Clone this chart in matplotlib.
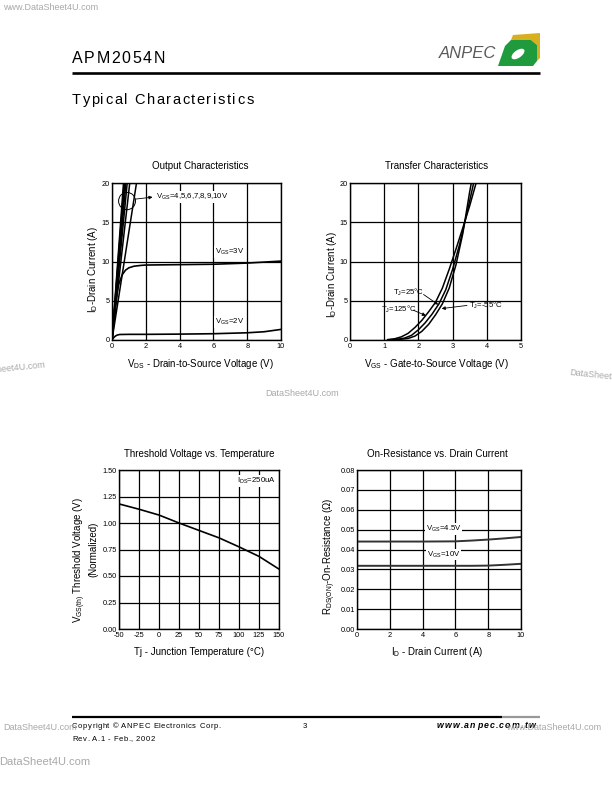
import matplotlib
matplotlib.use('agg')
import matplotlib.pyplot as plt
from matplotlib.lines import Line2D
from matplotlib.patches import Ellipse, Polygon

W, H = 612, 792
FONT = ['Liberation Sans Narrow', 'Liberation Sans', 'DejaVu Sans']
TICKFONT = ['Liberation Sans', 'DejaVu Sans']
plt.rcParams['font.family'] = FONT
plt.rcParams['mathtext.default'] = 'regular'

# --- Output characteristics (ID vs VDS)
vgs_steep = [4, 5, 6, 7, 8, 9, 10]
vds_at_20a = [1.45, 1.05, 0.90, 0.82, 0.76, 0.72, 0.68]
vds_3v = [0, 0.1, 0.2, 0.3, 0.4, 0.6, 0.8, 1.0, 1.3, 1.7, 2.0, 4.0, 6.0, 8.0, 10.0]
id_3v = [0, 2.5, 4.5, 6.0, 7.1, 8.3, 8.9, 9.2, 9.4, 9.5, 9.55, 9.6, 9.65, 9.8, 10.05]
vds_2v = [0, 0.1, 0.2, 0.3, 0.45, 1, 2, 4, 6, 8, 9, 10]
id_2v = [0, 0.3, 0.5, 0.62, 0.7, 0.72, 0.72, 0.75, 0.8, 0.92, 1.05, 1.35]

# --- Transfer characteristics (ID vs VGS)
vgs_125 = [1.1, 1.3, 1.5, 1.7, 1.9, 2.1, 2.3, 2.5, 2.7, 2.9, 3.1, 3.3, 3.5, 3.7]
id_125 = [0.05, 0.15, 0.4, 0.85, 1.6, 2.5, 3.6, 4.8, 6.6, 9.0, 11.6, 14.3, 17.1, 20.2]
vgs_25 = [1.2, 1.4, 1.6, 1.8, 2.0, 2.2, 2.4, 2.6, 2.8, 3.0, 3.2, 3.4, 3.6, 3.62]
id_25 = [0.05, 0.1, 0.25, 0.6, 1.3, 2.2, 3.3, 4.6, 6.4, 9.0, 12.1, 15.8, 19.7, 20.2]
vgs_m55 = [1.3, 1.5, 1.7, 1.9, 2.1, 2.3, 2.5, 2.7, 2.9, 3.1, 3.3, 3.5, 3.56]
id_m55 = [0.05, 0.1, 0.2, 0.5, 1.1, 2.0, 3.2, 4.6, 6.6, 9.6, 13.6, 18.9, 20.3]

# --- Threshold voltage vs temperature
tj = [-50, -25, 0, 25, 50, 75, 100, 125, 150]
vth_norm = [1.18, 1.13, 1.075, 1.0, 0.93, 0.86, 0.775, 0.685, 0.565]

# --- On-resistance vs drain current
id_r = [0, 2, 4, 6, 7, 8, 9, 10]
rds_45 = [0.0440, 0.0440, 0.0440, 0.0441, 0.0445, 0.0450, 0.0456, 0.0463]
rds_10 = [0.0318, 0.0318, 0.0318, 0.0318, 0.0318, 0.0319, 0.0323, 0.0328]

fig = plt.figure(figsize=(W / 100, H / 100), dpi=100)
renderer = fig.canvas.get_renderer()


def fx(x):
    return x / W


def fy(y):
    return 1 - y / H


def ftext(x, y, s, **kw):
    return fig.text(fx(x), fy(y), s, **kw)


def spaced(x, y, s, size, gap, **kw):
    # letter-spaced text, positions measured from the renderer
    ref = fig.text(0, 0, '|', fontsize=size, **kw)
    wref = ref.get_window_extent(renderer).width
    ref.remove()
    for k, ch in enumerate(s):
        if k:
            t = fig.text(0, 0, s[:k] + '|', fontsize=size, **kw)
            off = t.get_window_extent(renderer).width - wref
            t.remove()
        else:
            off = 0
        if ch != ' ':
            ftext(x + off + k * gap, y, ch, fontsize=size, va='baseline', **kw)


def hline(x0, x1, y, lw, color='black'):
    fig.add_artist(Line2D([fx(x0), fx(x1)], [fy(y), fy(y)], lw=lw, color=color,
                          transform=fig.transFigure, solid_capstyle='butt'))


def make_ax(x0, y0, x1, y1, xlim, ylim, xticks, yticks, xfmt, yfmt):
    ax = fig.add_axes([fx(x0), fy(y1), (x1 - x0) / W, (y1 - y0) / H])
    ax.set_xlim(xlim)
    ax.set_ylim(ylim)
    ax.set_xticks(xticks)
    ax.set_yticks(yticks)
    ax.set_xticklabels([xfmt % v for v in xticks], family=TICKFONT)
    ax.set_yticklabels([yfmt % v for v in yticks], family=TICKFONT)
    ax.grid(True, color='black', linewidth=0.9)
    ax.set_axisbelow(True)
    ax.tick_params(length=0, labelsize=5.3)
    ax.tick_params(axis='x', pad=2.5)
    ax.tick_params(axis='y', pad=1.5)
    for s in ax.spines.values():
        s.set_linewidth(1.0)
    return ax


small = dict(fontsize=5.6, family=TICKFONT)
wbox = dict(facecolor='white', edgecolor='none', pad=0.6)
arr = dict(arrowstyle='-|>', color='black', lw=0.6, mutation_scale=5,
           shrinkA=0, shrinkB=0)

# ---------------- Output characteristics
ax1 = make_ax(112, 183, 281, 340, (0, 10), (0, 20), [0, 2, 4, 6, 8, 10],
              [0, 5, 10, 15, 20], '%d', '%d')
for v in vds_at_20a:
    ax1.plot([0, v], [0, 20], color='black', lw=1.1)
ax1.plot(vds_3v, id_3v, color='black', lw=1.2)
ax1.plot(vds_2v, id_2v, color='black', lw=1.2)
ax1.add_patch(Ellipse((0.89, 17.7), 1.0, 2.2, fill=False, lw=0.7, color='black'))
ax1.annotate('', xy=(2.4, 18.2), xytext=(1.39, 17.95), arrowprops=arr)
ax1.text(2.6, 18.2, r'$V_{GS}$=' + ','.join(str(v) for v in vgs_steep) + 'V',
         va='center', bbox=wbox, **small)
ax1.text(6.1, 11.2, r'$V_{GS}$=3V', va='center', bbox=wbox, **small)
ax1.text(6.1, 2.3, r'$V_{GS}$=2V', va='center', bbox=wbox, **small)
ftext(200, 166, 'Output Characteristics', fontsize=7, ha='center', va='center')
ftext(200, 364, r'$V_{DS}$ - Drain-to-Source Voltage (V)', fontsize=7,
      ha='center', va='center')
ftext(93, 270, r'$I_D$-Drain Current (A)', fontsize=7, ha='center', va='center',
      rotation=90)

# ---------------- Transfer characteristics
ax2 = make_ax(350, 183, 521, 340, (0, 5), (0, 20), [0, 1, 2, 3, 4, 5],
              [0, 5, 10, 15, 20], '%d', '%d')
ax2.plot(vgs_125, id_125, color='black', lw=1.1)
ax2.plot(vgs_25, id_25, color='black', lw=1.1)
ax2.plot(vgs_m55, id_m55, color='black', lw=1.1)
ax2.text(1.26, 6.1, r'$T_J$=25°C', va='center', **small)
ax2.annotate('', xy=(2.58, 4.5), xytext=(2.15, 5.8), arrowprops=arr)
ax2.text(0.9, 3.95, r'$T_J$=125°C', va='center', **small)
ax2.annotate('', xy=(2.22, 3.1), xytext=(1.85, 3.8), arrowprops=arr)
ax2.text(3.47, 4.4, r'$T_J$=-55°C', va='center', **small)
ax2.annotate('', xy=(2.68, 4.0), xytext=(3.42, 4.4), arrowprops=arr)
ftext(437, 166, 'Transfer Characteristics', fontsize=7, ha='center', va='center')
ftext(436, 364, r'$V_{GS}$ - Gate-to-Source Voltage (V)', fontsize=7,
      ha='center', va='center')
ftext(332, 275, r'$I_D$-Drain Current (A)', fontsize=7, ha='center', va='center',
      rotation=90)

# ---------------- Threshold voltage vs temperature
ax3 = make_ax(119, 470, 279, 629, (-50, 150), (0, 1.5),
              [-50, -25, 0, 25, 50, 75, 100, 125, 150],
              [0, 0.25, 0.5, 0.75, 1.0, 1.25, 1.5], '%d', '%.2f')
ax3.plot(tj, vth_norm, color='black', lw=1.2)
ax3.text(97, 1.40, r'$I_{DS}$=250uA', va='center', bbox=wbox, **small)
ftext(199, 454, 'Threshold Voltage vs. Temperature', fontsize=7, ha='center',
      va='center')
ftext(199, 652, 'Tj - Junction Temperature (°C)', fontsize=7, ha='center',
      va='center')
ftext(80, 560, r'$V_{GS(th)}$ Threshold Voltage (V)', fontsize=7, ha='center',
      va='center', rotation=90)
ftext(93, 549, '(Normalized)', fontsize=7, ha='center', va='center', rotation=90)

# ---------------- On-resistance vs drain current
ax4 = make_ax(357, 470, 521, 629, (0, 10), (0, 0.08), [0, 2, 4, 6, 8, 10],
              [0, 0.01, 0.02, 0.03, 0.04, 0.05, 0.06, 0.07, 0.08], '%d', '%.2f')
ax4.plot(id_r, rds_45, color='#333333', lw=1.4)
ax4.plot(id_r, rds_10, color='#333333', lw=1.4)
ax4.text(4.2, 0.0503, r'$V_{GS}$=4.5V', va='center', bbox=wbox, **small)
ax4.text(4.25, 0.0375, r'$V_{GS}$=10V', va='center', bbox=wbox, **small)
ftext(437, 454, 'On-Resistance vs. Drain Current', fontsize=7, ha='center',
      va='center')
ftext(437, 652, r'$I_D$ - Drain Current (A)', fontsize=7, ha='center', va='center')
ftext(330, 556, r'$R_{DS(ON)}$-On-Resistance ($\Omega$)', fontsize=7, ha='center',
      va='center', rotation=90)

# ---------------- page header
spaced(72, 63, 'APM2054N', 11.5, 1.6, family=TICKFONT)
hline(72, 540, 72.5, 1.9)
spaced(72, 104, 'Typical Characteristics', 10.5, 1.55, family=TICKFONT)
ftext(439, 58, 'ANPEC', fontsize=12, style='italic', color='#5a5a5a',
      family=TICKFONT, va='baseline')
logo_yellow = [(511, 40), (513, 35), (540, 33), (540, 58), (537, 61), (537, 45),
               (531, 40)]
logo_green = [(498, 66), (533, 66), (537, 61), (537, 45), (531, 40), (511, 40),
              (505, 46)]
fig.add_artist(Polygon([(fx(a), fy(b)) for a, b in logo_yellow], closed=True,
                       facecolor='#d6b01e', edgecolor='none',
                       transform=fig.transFigure))
fig.add_artist(Polygon([(fx(a), fy(b)) for a, b in logo_green], closed=True,
                       facecolor='#1f9a3c', edgecolor='none',
                       transform=fig.transFigure))
fig.add_artist(Ellipse((fx(518), fy(54)), 14 / W, 8 / H, angle=25,
                       facecolor='white', edgecolor='none',
                       transform=fig.transFigure))

# ---------------- page footer
hline(72, 502, 717, 1.6)
hline(502, 540, 717, 1.6, '#999999')
spaced(72, 728, 'Copyright © ANPEC Electronics Corp.', 5.5, 0.55, family=TICKFONT)
spaced(72, 741, 'Rev. A.1 - Feb., 2002', 5.5, 0.55, family=TICKFONT)
ftext(305, 728, '3', fontsize=5.5, family=TICKFONT, ha='center', va='baseline')
spaced(437, 728, 'www.anpec.com.tw', 6.3, 1.2, family=TICKFONT, style='italic',
       weight='bold')

# ---------------- watermarks
wm = dict(family=TICKFONT, color='#a8a8a8')
ftext(3, 8, 'www.DataSheet4U.com', fontsize=6.5, va='center', **wm)
ftext(265, 393, 'DataSheet4U.com', fontsize=6.5, va='center', **wm)
ftext(-28, 369, 'DataSheet4U.com', fontsize=6.5, va='center', rotation=6, **wm)
ftext(569, 376, 'DataSheet4U.com', fontsize=6.5, va='center', rotation=-6, **wm)
ftext(3, 727, 'DataSheet4U.com', fontsize=6.5, va='center', **wm)
ftext(506, 727, 'www.DataSheet4U.com', fontsize=6.5, va='center', **wm)
ftext(-1, 762, 'DataSheet4U.com', fontsize=8, va='center', **wm)

fig.savefig('out.png', dpi=100)
